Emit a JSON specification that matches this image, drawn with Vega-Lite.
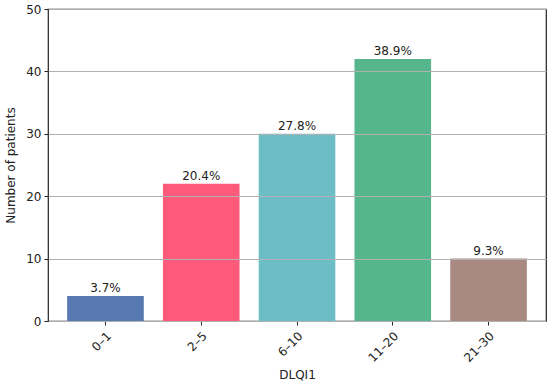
{
  "$schema": "https://vega.github.io/schema/vega-lite/v6.json",
  "width": 498,
  "height": 312,
  "autosize": {"type": "none"},
  "padding": {"left": 48, "top": 9, "right": 4, "bottom": 66},
  "background": "white",
  "config": {
    "font": "DejaVu Sans",
    "view": {"stroke": "#222", "strokeWidth": 1.2},
    "axis": {"labelFont": "DejaVu Sans", "titleFont": "DejaVu Sans", "labelFontSize": 12, "titleFontSize": 12, "titleFontWeight": "normal", "labelColor": "#222", "titleColor": "#222", "domainColor": "#222", "tickColor": "#222"}
  },
  "data": {
    "values": [
      {"group": "0\u20131", "count": 4, "pct": "3.7%"},
      {"group": "2\u20135", "count": 22, "pct": "20.4%"},
      {"group": "6\u201310", "count": 30, "pct": "27.8%"},
      {"group": "11\u201320", "count": 42, "pct": "38.9%"},
      {"group": "21\u201330", "count": 10, "pct": "9.3%"}
    ]
  },
  "encoding": {
    "x": {"field": "group", "type": "nominal", "sort": null,
      "scale": {"paddingInner": 0.2, "paddingOuter": 0.2},
      "axis": {"title": "DLQI1", "labelAngle": -45, "labelAlign": "right", "labelBaseline": "top", "labelPadding": 5, "titlePadding": 6, "grid": false, "tickSize": 4, "domain": false}},
    "y": {"field": "count", "type": "quantitative",
      "scale": {"domain": [0, 50], "nice": false},
      "axis": {"title": "Number of patients", "values": [0, 10, 20, 30, 40, 50], "grid": true, "gridColor": "#b0b0b0", "gridWidth": 1, "tickSize": 4, "labelPadding": 3, "titlePadding": 8, "domain": false, "zindex": 1}}
  },
  "layer": [
    {"mark": {"type": "bar"},
      "encoding": {"color": {"field": "group", "type": "nominal", "sort": null, "legend": null,
        "scale": {"range": ["#5778b0", "#fe5b7a", "#6dbdc6", "#55b58b", "#a98a82"]}}}},
    {"mark": {"type": "text", "baseline": "bottom", "dy": -1, "fontSize": 12, "color": "#222"},
      "encoding": {"text": {"field": "pct"}}}
  ]
}
